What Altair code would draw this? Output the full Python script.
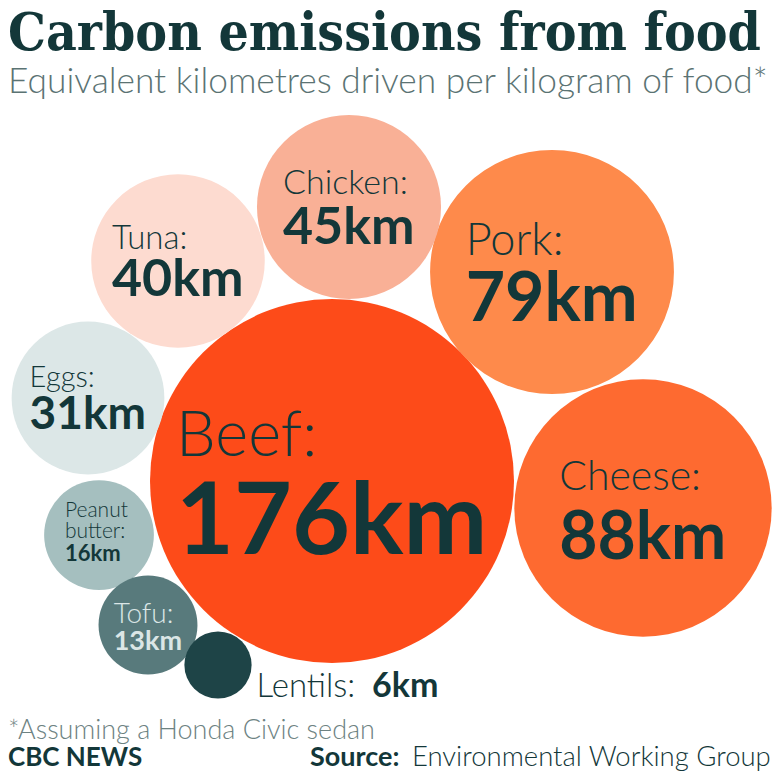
import pandas as pd
import altair as alt

# values per food, km driven per kg
foods = ["Beef", "Cheese", "Pork", "Chicken", "Tuna", "Eggs", "Peanut butter", "Tofu", "Lentils"]
km = [176, 88, 79, 45, 40, 31, 16, 13, 6]

# bubble centres in layout units (page pixels, y downwards)
cx = [332, 643, 552, 349, 178, 88, 99, 148, 218]
cy = [481, 508, 272, 207, 261, 398, 535, 625, 665]

colours = ["#fd4b19", "#fe6a30", "#fe8a4b", "#f9b096", "#fddbd0",
           "#dce7e7", "#a5bfbf", "#587a7c", "#1e4447"]

DARK = "#133739"
GREY = "#5b7373"
FONT = "Lato"
R_MAX = 182  # radius of the biggest bubble

name_fs = {"Beef": 63, "Cheese": 41, "Pork": 45, "Chicken": 34, "Tuna": 33,
           "Eggs": 29, "Peanut butter": 21, "Tofu": 28, "Lentils": 33}
value_fs = {"Beef": 100, "Cheese": 66, "Pork": 68, "Chicken": 52, "Tuna": 52,
            "Eggs": 46, "Peanut butter": 22, "Tofu": 27, "Lentils": 34}

BOLD_EM = {"k": 0.53, "m": 0.85}


def bold_width(s, fs):
    return fs * sum(BOLD_EM.get(c, 0.58) for c in s)


bubbles = pd.DataFrame({"food": foods, "km": km, "cx": cx, "cy": cy, "colour": colours})
bubbles["r"] = R_MAX * (bubbles["km"] / max(km)) ** 0.5

light_rows, bold_rows = [], []
for f, v, x0, y0, r in zip(foods, km, cx, cy, bubbles["r"]):
    val = f"{v}km"
    col = "#dbe6e6" if f == "Tofu" else DARK
    if f == "Lentils":
        lx = x0 + r + 5
        light_rows.append({"t": "Lentils:", "x": lx, "y": y0 + 32, "fs": name_fs[f], "col": col})
        bold_rows.append({"t": val, "x": lx + name_fs[f] * 3.5, "y": y0 + 32, "fs": value_fs[f], "col": col})
        continue
    left = x0 - bold_width(val, value_fs[f]) / 2
    if f == "Peanut butter":
        left = x0 - 0.62 * r
        light_rows.append({"t": "Peanut", "x": left, "y": y0 - 18, "fs": name_fs[f], "col": col})
        light_rows.append({"t": "butter:", "x": left, "y": y0 + 3, "fs": name_fs[f], "col": col})
        bold_rows.append({"t": val, "x": left, "y": y0 + 26, "fs": value_fs[f], "col": col})
    elif f == "Tofu":
        light_rows.append({"t": "Tofu:", "x": left, "y": y0 - 2, "fs": name_fs[f], "col": col})
        bold_rows.append({"t": val, "x": left, "y": y0 + 25, "fs": value_fs[f], "col": col})
    else:
        light_rows.append({"t": f + ":", "x": left, "y": y0 - 0.14 * r, "fs": name_fs[f], "col": col})
        bold_rows.append({"t": val, "x": left, "y": y0 + 0.40 * r, "fs": value_fs[f], "col": col})

light = pd.DataFrame(light_rows)
bold = pd.DataFrame(bold_rows)

xs = alt.Scale(domain=[8, 772], nice=False, zero=False)
ys = alt.Scale(domain=[8, 772], nice=False, zero=False, reverse=True)

circles = alt.Chart(bubbles).mark_circle(opacity=1).encode(
    x=alt.X("cx:Q", scale=xs, axis=None),
    y=alt.Y("cy:Q", scale=ys, axis=None),
    size=alt.Size("km:Q", scale=alt.Scale(domain=[0, max(km)], range=[0, (2 * R_MAX) ** 2]), legend=None),
    color=alt.Color("colour:N", scale=None),
    tooltip=["food", "km"],
)

light_text = alt.Chart(light).mark_text(align="left", baseline="alphabetic", font=FONT, fontWeight=300).encode(
    x=alt.X("x:Q", scale=xs, axis=None),
    y=alt.Y("y:Q", scale=ys, axis=None),
    text="t:N",
    size=alt.Size("fs:Q", scale=None),
    color=alt.Color("col:N", scale=None),
)

bold_text = alt.Chart(bold).mark_text(align="left", baseline="alphabetic", font=FONT, fontWeight="bold").encode(
    x=alt.X("x:Q", scale=xs, axis=None),
    y=alt.Y("y:Q", scale=ys, axis=None),
    text="t:N",
    size=alt.Size("fs:Q", scale=None),
    color=alt.Color("col:N", scale=None),
)


def note(text, x, y, size, color, weight, font=FONT):
    return alt.Chart(pd.DataFrame({"t": [text]})).mark_text(
        align="left", baseline="alphabetic", font=font, fontSize=size,
        fontWeight=weight, color=color
    ).encode(text="t:N", x=alt.value(x), y=alt.value(y))


title = note("Carbon emissions from food", 0, 42, 53, DARK, "bold", "DejaVu Serif Condensed")
subtitle = note("Equivalent kilometres driven per kilogram of food*", 0, 85, 35.3, GREY, 300)
foot1 = note("*Assuming a Honda Civic sedan", 0, 731, 27, "#6d8282", 300)
foot2 = note("CBC NEWS", 0, 758, 26, DARK, "bold")
foot3 = note("Source:", 302, 758, 27, DARK, "bold")
foot4 = note("Environmental Working Group", 404, 758, 27.5, DARK, 300)

chart = alt.layer(
    circles, light_text, bold_text, title, subtitle, foot1, foot2, foot3, foot4
).resolve_scale(
    size="independent"
).properties(
    width=764, height=764, padding=0,
    autosize=alt.AutoSizeParams(type="none"),
    background="white",
).configure_view(strokeWidth=0)

chart.save("out.html", embed_options={"renderer": "svg", "actions": False})
